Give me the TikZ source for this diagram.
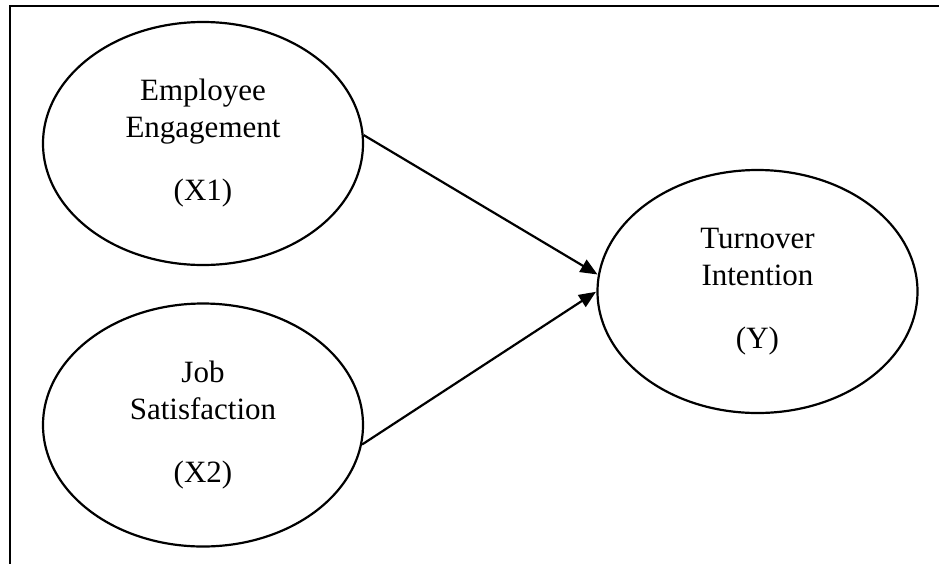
\documentclass[tikz,border=0pt]{standalone}
\usepackage{fontspec}
\setmainfont{Liberation Serif}
\usetikzlibrary{shapes.geometric,arrows.meta}
\tikzset{
  construct/.style={ellipse, draw, line width=2.2pt, minimum width=320pt, minimum height=243pt,
    inner sep=0pt, align=center, font=\fontsize{31}{37}\selectfont},
  frameline/.style={line width=2.4pt},
  link/.style={line width=2.2pt, -{Triangle[length=17pt,width=14pt]}, shorten >=0.5pt}
}
\begin{document}
\begin{tikzpicture}[x=1pt,y=-1pt]
\useasboundingbox (0,0) rectangle (939,563);
\coordinate (ftl) at (10,6);
\coordinate (ftr) at (940,6);
\coordinate (fbl) at (10,564);
\draw[frameline] (ftr) -- (ftl) -- (fbl);
\node[construct] (e1) at (203,143.5) {Employee\\Engagement\\[26pt](X1)};
\node[construct] (e2) at (203,425) {Job\\Satisfaction\\[26pt](X2)};
\node[construct] (e3) at (757.5,291.5) {Turnover\\Intention\\[26pt](Y)};
\draw[link] (e1.3) -- (e3.174.5);
\draw[link] (e2.-7) -- (e3.180);
\end{tikzpicture}
\end{document}
